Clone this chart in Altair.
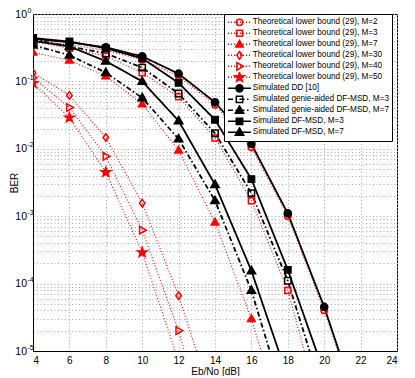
import altair as alt
import pandas as pd

# ---------------- data ----------------
x_vals = [4, 6, 8, 10, 12, 14, 16, 18, 20, 22]

th_m2 = [0.40, 0.35, 0.29, 0.21, 0.12, 0.045, 0.0105, 1.0e-3, 4.0e-5, 1.0e-6]
th_m3 = [0.39, 0.31, 0.237, 0.134, 0.059, 0.0145, 1.7e-3, 7.9e-5, 8.0e-7]
th_m7 = [0.27, 0.205, 0.12, 0.046, 0.0095, 8.1e-4, 3.0e-5, 5.0e-7]
th_m30 = [0.134, 0.062, 0.0147, 1.56e-3, 6.6e-5, 1.4e-6]
th_m40 = [0.113, 0.041, 0.0077, 6.2e-4, 2.0e-5, 2.5e-7]
th_m50 = [0.094, 0.029, 0.0045, 2.9e-4, 7.0e-6]
sim_dd = [0.43, 0.38, 0.32, 0.235, 0.13, 0.049, 0.0118, 1.1e-3, 4.5e-5, 1.1e-6]
genie_m3 = [0.42, 0.33, 0.26, 0.16, 0.066, 0.017, 2.2e-3, 1.1e-4, 2.0e-6]
genie_m7 = [0.345, 0.245, 0.135, 0.057, 0.014, 1.7e-3, 7.9e-5, 1.3e-6]
df_m3 = [0.44, 0.39, 0.31, 0.22, 0.095, 0.027, 3.55e-3, 1.6e-4, 4.7e-6]
df_m7 = [0.40, 0.33, 0.20, 0.10, 0.026, 2.95e-3, 1.55e-4, 4.0e-6]

series_names = [
    "Theoretical lower bound (29), M=2",
    "Theoretical lower bound (29), M=3",
    "Theoretical lower bound (29), M=7",
    "Theoretical lower bound (29), M=30",
    "Theoretical lower bound (29), M=40",
    "Theoretical lower bound (29), M=50",
    "Simulated DD [10]",
    "Simulated genie-aided DF-MSD, M=3",
    "Simulated genie-aided DF-MSD, M=7",
    "Simulated DF-MSD, M=3",
    "Simulated DF-MSD, M=7",
]
series_values = [th_m2, th_m3, th_m7, th_m30, th_m40, th_m50,
                 sim_dd, genie_m3, genie_m7, df_m3, df_m7]
series_group = ["th"] * 6 + ["sim"] * 5

x_ticks = list(range(4, 25, 2))
y_decades = [1.0, 1e-1, 1e-2, 1e-3, 1e-4, 1e-5]
y_ticks = [1.0] + [k * 10.0 ** e for e in range(-1, -6, -1) for k in range(9, 0, -1)]
y_exponents = ["0", "-1", "-2", "-3", "-4", "-5"]

rows = []
for name, grp, vals in zip(series_names, series_group, series_values):
    for xv, yv in zip(x_vals, vals):
        rows.append({"series": name, "grp": grp, "ebno": xv, "ber": yv})
df = pd.DataFrame(rows)

# ---------------- styling ----------------
RED = "#ff0000"
BLK = "#000000"
colors = [RED] * 6 + [BLK] * 5
fills = ["transparent", "transparent", RED, "transparent", "transparent", RED,
         BLK, "transparent", BLK, BLK, BLK]
dash_dot = [5, 2.5, 1.5, 2.5]
dashes = [[1, 2]] * 6 + [[1, 0], dash_dot, dash_dot, [1, 0], [1, 0]]


def fmt(v):
    return f"{v:.3f}".rstrip("0").rstrip(".") if v != 0 else "0"


def circle(cx, r):
    return (f"M{fmt(cx + r)},0A{fmt(r)},{fmt(r)},0,1,1,{fmt(cx - r)},0"
            f"A{fmt(r)},{fmt(r)},0,1,1,{fmt(cx + r)},0Z")


def poly(cx, pts, s=1.0):
    return "M" + "L".join(f"{fmt(cx + x * s)},{fmt(y * s)}" for x, y in pts) + "Z"


SQ = [(-1, -1), (1, -1), (1, 1), (-1, 1)]
TRI_UP = [(0, -1.0), (0.95, 0.65), (-0.95, 0.65)]
DIAM = [(0, -1), (0.72, 0), (0, 1), (-0.72, 0)]
TRI_R = [(1.0, 0), (-0.65, -0.95), (-0.65, 0.95)]
STAR = [(0, -1), (0.235, -0.324), (0.951, -0.309), (0.38, 0.124), (0.588, 0.809),
        (0, 0.4), (-0.588, 0.809), (-0.38, 0.124), (-0.951, -0.309), (-0.235, -0.324)]


def marker(i, cx):
    if i == 0:
        return circle(cx, 0.8)
    if i == 1:
        return poly(cx, SQ, 0.75)
    if i == 2:
        return poly(cx, TRI_UP, 1.0)
    if i == 3:
        return poly(cx, DIAM, 0.95)
    if i == 4:
        return poly(cx, TRI_R, 1.0)
    if i == 5:
        return poly(cx, STAR, 1.25)
    if i == 6:
        return circle(cx, 0.9)
    if i in (7, 9):
        return poly(cx, SQ, 0.8)
    return poly(cx, TRI_UP, 1.1)


UNIT = 4.0  # px per unit for size 64


def line_path(pattern_px, start=-1.0, end=4.75):
    if pattern_px[1] == 0:
        return f"M{fmt(start)},0H{fmt(end)}"
    pat = [p / UNIT for p in pattern_px]
    out = []
    pos = start
    k = 0
    while pos < end:
        seg = pat[k % len(pat)]
        if k % 2 == 0:
            out.append(f"M{fmt(pos)},0H{fmt(min(end, pos + seg))}")
        pos += seg
        k += 1
    return "".join(out)


plot_shapes = [marker(i, 0.0) for i in range(11)]
legend_patterns = [[1, 2]] * 6 + [[1, 0], dash_dot, dash_dot, [1, 0], [1, 0]]
legend_shapes = [line_path(legend_patterns[i]) + marker(i, 1.875) for i in range(11)]

is_decade = "abs(log(datum.value)/LN10 - round(log(datum.value)/LN10)) < 0.001"
exp_expr = (is_decade + " ? [" + ",".join(f"'{s}'" for s in y_exponents)
            + "][-round(log(datum.value)/LN10)] : ''")

X = alt.X("ebno:Q", scale=alt.Scale(domain=[4, 24], nice=False),
          axis=alt.Axis(values=x_ticks, title="Eb/No [dB]", grid=True, ticks=False,
                        labelPadding=4, titlePadding=1, format="d"))
yscale = alt.Scale(type="log", domain=[1e-5, 1], nice=False)
Y_main = alt.Y("ber:Q", scale=yscale,
               axis=alt.Axis(values=y_ticks, labelExpr=is_decade + " ? '10' : ''",
                             title="BER", grid=True, ticks=False, orient="left",
                             labelPadding=6.5, labelFontSize=10.5,
                             titleX=-19, titleBaseline="middle"))
Y_exp = alt.Y("ber:Q", scale=yscale,
              axis=alt.Axis(values=y_decades, labelExpr=exp_expr, title=None, grid=False,
                            ticks=False, domain=False, orient="left",
                            labelPadding=6, labelAlign="left", labelFontSize=7,
                            labelOffset=-4))
Y_none = alt.Y("ber:Q", scale=yscale, axis=None)

stroke_enc = alt.Stroke("series:N", scale=alt.Scale(domain=series_names, range=colors), legend=None)
dash_enc = alt.StrokeDash("series:N", scale=alt.Scale(domain=series_names, range=dashes), legend=None)

base = alt.Chart(df)

lines_red = base.transform_filter("datum.grp == 'th'").mark_line(
    clip=True, strokeWidth=1.1).encode(x=X, y=Y_main, stroke=stroke_enc, strokeDash=dash_enc,
                                       detail="series:N")
lines_blk = base.transform_filter("datum.grp == 'sim'").mark_line(
    clip=True, strokeWidth=1.8).encode(x=X, y=Y_none, stroke=stroke_enc, strokeDash=dash_enc,
                                       detail="series:N")

points = base.mark_point(clip=True, opacity=1, size=64, strokeWidth=1.5).encode(
    x=X, y=Y_none,
    shape=alt.Shape("series:N", scale=alt.Scale(domain=series_names, range=plot_shapes), legend=None),
    stroke=alt.Stroke("series:N", scale=alt.Scale(domain=series_names, range=colors), legend=None),
    fill=alt.Fill("series:N", scale=alt.Scale(domain=series_names, range=fills), legend=None),
)

leg = alt.Legend(title=None, orient="none", legendX=191, legendY=0,
                 fillColor="white", strokeColor="black", padding=3,
                 labelFontSize=8.2, labelOffset=15.7, rowPadding=0, clipHeight=10.7,
                 symbolSize=64, symbolStrokeWidth=1.5, labelLimit=0)

legend_layer = base.transform_filter("false").mark_point(opacity=1, size=64, strokeWidth=1.5).encode(
    x=X, y=Y_exp,
    shape=alt.Shape("series:N", scale=alt.Scale(domain=series_names, range=legend_shapes), legend=leg),
    stroke=alt.Stroke("series:N", scale=alt.Scale(domain=series_names, range=colors), legend=leg),
    fill=alt.Fill("series:N", scale=alt.Scale(domain=series_names, range=fills), legend=leg),
)

chart = alt.layer(lines_red, lines_blk, points, legend_layer).resolve_scale(
    stroke="independent", strokeDash="independent", shape="independent", fill="independent"
).resolve_axis(y="independent").properties(
    width=364, height=337,
    autosize=alt.AutoSizeParams(type="none"),
    padding={"left": 25, "top": 6, "right": 10, "bottom": 25},
).configure(font="Liberation Sans").configure_view(
    stroke="black", strokeWidth=1
).configure_axis(
    labelFont="Liberation Sans", titleFont="Liberation Sans",
    labelFontSize=10, titleFontSize=10, titleFontWeight="normal",
    labelColor="black", titleColor="black",
    domainColor="black", gridColor="#aaaaaa", gridDash=[1, 2.5], gridOpacity=1,
)

chart.save("out.html", embed_options={"renderer": "svg", "actions": False})
